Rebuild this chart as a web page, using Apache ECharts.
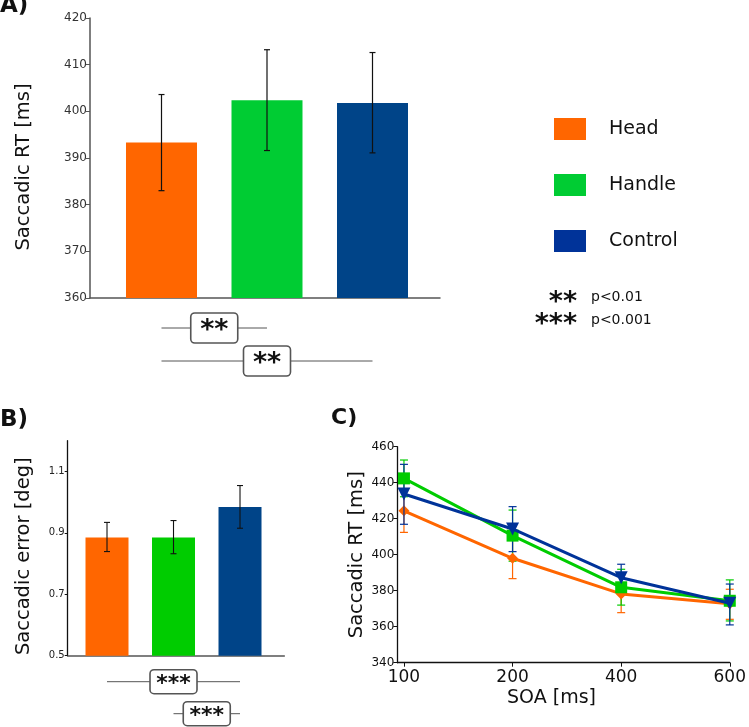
<!DOCTYPE html>
<html><head><meta charset="utf-8">
<script src="https://cdn.jsdelivr.net/npm/echarts@6/dist/echarts.min.js"></script>
<style>html,body{margin:0;padding:0;background:#fff}#c{width:749px;height:727px}</style>
</head><body><div id="c"></div>
<script>
// ---------- data ----------
const conditions = ['Head', 'Handle', 'Control'];
// Panel A: saccadic RT [ms]
const rtMean = [393.3, 402.4, 401.8];
const rtLow  = [383.0, 391.6, 391.1];
const rtHigh = [403.6, 413.2, 412.6];
const rtTicks = [360, 370, 380, 390, 400, 410, 420];
// Panel B: saccadic error [deg]
const errMean = [0.885, 0.885, 0.984];
const errLow  = [0.839, 0.832, 0.915];
const errHigh = [0.934, 0.940, 1.054];
const errTicks = [0.5, 0.7, 0.9, 1.1];
// Panel C: saccadic RT by SOA
const soaLabels = ['100', '200', '400', '600'];
const soaHead = [424.4, 398.0, 378.2, 372.8];
const soaHeadLow = [412.4, 386.7, 367.8, 364.1];
const soaHeadHigh = [436.5, 410.0, 388.5, 380.8];
const soaHandle = [442.4, 410.6, 381.9, 374.4];
const soaHandleLow = [432.2, 396.4, 372.0, 363.2];
const soaHandleHigh = [452.6, 424.8, 391.9, 386.0];
const soaControl = [433.7, 414.3, 387.2, 373.0];
const soaControlLow = [416.9, 401.7, 379.7, 361.0];
const soaControlHigh = [450.2, 426.7, 394.7, 383.7];
// significance comparisons: [fromIndex, toIndex, label]
const rtComparisons = [[0, 1, '**'], [0, 2, '**']];
const errComparisons = [[0, 2, '***'], [1, 2, '***']];
const sigLegend = [['**', 'p<0.01'], ['***', 'p<0.001']];

// ---------- styles ----------
const FONT = 'DejaVu Sans';
const legendColors = ['#ff6600', '#00cc33', '#003399'];
const barColorsA = ['#ff6600', '#00cc33', '#004488'];
const barColorsB = ['#ff6600', '#00cc00', '#004488'];
const lineColors = ['#ff6600', '#00cc00', '#003399'];

function errRender(capW, color, lw) {
  return function (params, api) {
    const x = api.value(0), lo = api.value(1), hi = api.value(2);
    const a = api.coord([x, hi]), b = api.coord([x, lo]);
    const st = {stroke: color, lineWidth: lw};
    return {type: 'group', children: [
      {type: 'line', shape: {x1: a[0], y1: a[1], x2: b[0], y2: b[1]}, style: st},
      {type: 'line', shape: {x1: a[0] - capW / 2, y1: a[1], x2: a[0] + capW / 2, y2: a[1]}, style: st},
      {type: 'line', shape: {x1: b[0] - capW / 2, y1: b[1], x2: b[0] + capW / 2, y2: b[1]}, style: st}
    ]};
  };
}
function bracketRender(comps, rowOffsets, boxW, boxH, fontSize, textDy) {
  return function (params, api) {
    const i = params.dataIndex;
    const p1 = api.coord([api.value(0), api.value(2)]);
    const p2 = api.coord([api.value(1), api.value(2)]);
    const y = p1[1] + rowOffsets[i];
    const cx = (p1[0] + p2[0]) / 2;
    return {type: 'group', children: [
      {type: 'line', shape: {x1: p1[0], y1: y, x2: p2[0], y2: y}, style: {stroke: '#555', lineWidth: 1}},
      {type: 'rect', shape: {x: cx - boxW / 2, y: y - boxH / 2, width: boxW, height: boxH, r: 4},
        style: {fill: '#fff', stroke: '#555', lineWidth: 1.6}},
      {type: 'text', style: {text: comps[i][2], x: cx, y: y + textDy, align: 'center', verticalAlign: 'middle',
        font: 'bold ' + fontSize + 'px "' + FONT + '"', fill: '#111'}}
    ]};
  };
}

const series = [];
// Panel A bars
conditions.forEach((c, i) => {
  series.push({name: c, type: 'bar', xAxisIndex: 0, yAxisIndex: 0, barWidth: 71, barGap: '-100%',
    data: [[i + 1, rtMean[i]]], itemStyle: {color: barColorsA[i]}, silent: true});
});
series.push({type: 'custom', xAxisIndex: 0, yAxisIndex: 0, renderItem: errRender(6, '#111', 1.2),
  data: conditions.map((c, i) => [i + 1, rtLow[i], rtHigh[i]]), encode: {x: 0, y: [1, 2]}, z: 5});
series.push({type: 'custom', xAxisIndex: 0, yAxisIndex: 0, clip: false,
  renderItem: bracketRender(rtComparisons, [30, 63], 47, 30, 27, 3),
  data: rtComparisons.map(c => [c[0] + 1, c[1] + 1, 360]), encode: {x: [0, 1], y: 2}, z: 5});
// Panel B bars
conditions.forEach((c, i) => {
  series.push({name: c, type: 'bar', xAxisIndex: 1, yAxisIndex: 1, barWidth: 43, barGap: '-100%',
    data: [[i + 1, errMean[i]]], itemStyle: {color: barColorsB[i]}, silent: true});
});
series.push({type: 'custom', xAxisIndex: 1, yAxisIndex: 1, renderItem: errRender(6, '#111', 1.1),
  data: conditions.map((c, i) => [i + 1, errLow[i], errHigh[i]]), encode: {x: 0, y: [1, 2]}, z: 5});
series.push({type: 'custom', xAxisIndex: 1, yAxisIndex: 1, clip: false,
  renderItem: bracketRender(errComparisons, [26, 58], 47, 24, 22, 2.5),
  data: errComparisons.map(c => [c[0] + 1, c[1] + 1, 0.5]), encode: {x: [0, 1], y: 2}, z: 5});
// Panel C lines
const soaMeans = [soaHead, soaHandle, soaControl];
const soaLows = [soaHeadLow, soaHandleLow, soaControlLow];
const soaHighs = [soaHeadHigh, soaHandleHigh, soaControlHigh];
const symbols = ['diamond', 'rect', 'triangle'];
const symSizes = [11, 12, 13];
const symRot = [0, 0, 180];
conditions.forEach((c, i) => {
  series.push({type: 'custom', xAxisIndex: 2, yAxisIndex: 2, renderItem: errRender(8, lineColors[i], 1.2),
    data: soaLabels.map((s, k) => [k, soaLows[i][k], soaHighs[i][k]]), encode: {x: 0, y: [1, 2]},
    itemStyle: {opacity: 0.65}, z: 2 + i, silent: true});
});
conditions.forEach((c, i) => {
  series.push({name: c, type: 'line', xAxisIndex: 2, yAxisIndex: 2, data: soaLabels.map((s, k) => [k, soaMeans[i][k]]),
    symbol: symbols[i], symbolSize: symSizes[i], symbolRotate: symRot[i], showSymbol: true,
    lineStyle: {color: lineColors[i], width: 3}, itemStyle: {color: lineColors[i]}, z: 3 + i, silent: true});
});

const option = {
  animation: false,
  backgroundColor: '#fff',
  textStyle: {fontFamily: FONT},
  legend: {
    orient: 'vertical', left: 549, top: 113, itemWidth: 32, itemHeight: 22, itemGap: 34, icon: 'rect',
    selectedMode: false,
    data: conditions.map((c, i) => ({name: c, itemStyle: {color: legendColors[i], borderWidth: 0}})),
    textStyle: {fontSize: 19, color: '#111', fontFamily: FONT, padding: [0, 0, 0, 18], lineHeight: 22}
  },
  grid: [
    {left: 90, top: 18, width: 350, height: 280},
    {left: 67.7, top: 440.7, width: 216.6, height: 215},
    {left: 397.3, top: 446.7, width: 334.7, height: 216}
  ],
  xAxis: [
    {type: 'value', gridIndex: 0, min: 0.3223, max: 3.6398, axisLabel: {show: false}, axisTick: {show: false},
      splitLine: {show: false}, axisLine: {onZero: false, lineStyle: {color: '#555', width: 1.5}}},
    {type: 'value', gridIndex: 1, min: 0.409, max: 3.666, axisLabel: {show: false}, axisTick: {show: false},
      splitLine: {show: false}, axisLine: {onZero: false, lineStyle: {color: '#555', width: 1.5}}},
    {type: 'value', gridIndex: 2, min: -0.0613, max: 3, splitLine: {show: false},
      name: 'SOA [ms]', nameLocation: 'middle', nameGap: 26,
      nameTextStyle: {fontSize: 19, color: '#111', padding: [0, 24, 0, 0]},
      axisLine: {onZero: false, lineStyle: {color: '#111', width: 1.3}},
      axisTick: {customValues: [0, 1, 2, 3], length: 4, lineStyle: {color: '#111'}},
      axisLabel: {customValues: [0, 1, 2, 3], formatter: v => soaLabels[Math.round(v)], fontSize: 17, color: '#111', margin: 6}}
  ],
  yAxis: [
    {type: 'value', gridIndex: 0, min: 360, max: 420, interval: 10, splitLine: {show: false},
      name: 'Saccadic RT [ms]', nameLocation: 'middle', nameGap: 56,
      nameTextStyle: {fontSize: 19.5, color: '#111', padding: [0, 18, 0, 0]},
      axisLine: {show: true, onZero: false, lineStyle: {color: '#555', width: 1.5}},
      axisTick: {show: true, length: 4, lineStyle: {color: '#555'}},
      axisLabel: {fontSize: 12, color: '#333', margin: 3}},
    {type: 'value', gridIndex: 1, min: 0.5, max: 1.2, splitLine: {show: false},
      name: 'Saccadic error [deg]', nameLocation: 'middle', nameGap: 34,
      nameTextStyle: {fontSize: 19.5, color: '#111', padding: [0, 16, 0, 0]},
      axisLine: {show: true, onZero: false, lineStyle: {color: '#111', width: 1.3}},
      axisTick: {show: true, length: 3, customValues: errTicks, lineStyle: {color: '#111'}},
      axisLabel: {customValues: errTicks, formatter: v => v.toFixed(1), fontSize: 10, color: '#222', margin: 3}},
    {type: 'value', gridIndex: 2, min: 340, max: 460, interval: 20, splitLine: {show: false},
      name: 'Saccadic RT [ms]', nameLocation: 'middle', nameGap: 30,
      nameTextStyle: {fontSize: 19.5, color: '#111'},
      axisLine: {show: true, onZero: false, lineStyle: {color: '#111', width: 1.3}},
      axisTick: {show: true, length: 4, lineStyle: {color: '#111'}},
      axisLabel: {fontSize: 12, color: '#111', margin: 3}}
  ],
  graphic: [
    {type: 'text', left: 0, top: -5, style: {text: 'A)', font: 'bold 23px "' + FONT + '"', fill: '#111'}},
    {type: 'text', left: 0, top: 409, style: {text: 'B)', font: 'bold 23px "' + FONT + '"', fill: '#111'}},
    {type: 'text', left: 331, top: 407, style: {text: 'C)', font: 'bold 22px "' + FONT + '"', fill: '#111'}},
    ...sigLegend.map((s, k) => ({type: 'text', z: 10, style: {text: s[0], x: 577, y: 303 + k * 22, align: 'right',
      verticalAlign: 'middle', font: 'bold 27px "' + FONT + '"', fill: '#111'}})),
    ...sigLegend.map((s, k) => ({type: 'text', z: 10, style: {text: s[1], x: 591, y: 297 + k * 23, align: 'left',
      verticalAlign: 'middle', font: '14px "' + FONT + '"', fill: '#111'}}))
  ],
  series: series
};
const chart = echarts.init(document.getElementById('c'), null, {renderer: 'canvas'});
chart.setOption(option);
</script></body></html>
